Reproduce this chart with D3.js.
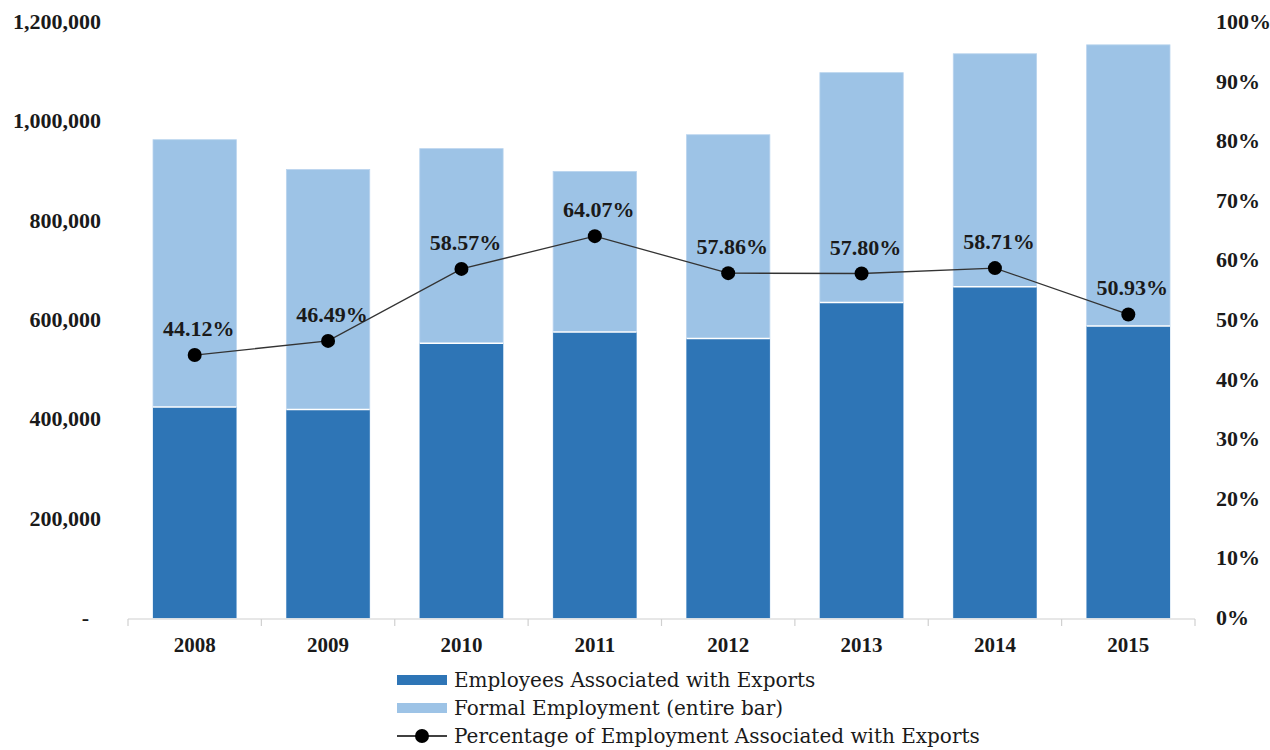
<!DOCTYPE html>
<html>
<head>
<meta charset="utf-8">
<script src="https://cdn.jsdelivr.net/npm/d3@7"></script>
<style>
  body { margin: 0; background: #fff; }
  text { font-family: "Liberation Serif", "DejaVu Serif", serif; fill: #1a1a1a; }
  text.legend { font-family: "DejaVu Serif", "Liberation Serif", serif; }
</style>
</head>
<body>
<div id="chart"></div>
<script>
// data
var years = ["2008", "2009", "2010", "2011", "2012", "2013", "2014", "2015"]
var formalEmployment = [963000, 903000, 945000, 899000, 973000, 1098000, 1136000, 1154000]
var exportEmployees = [425000, 420000, 553000, 576000, 563000, 635000, 667000, 588000]
var exportShare = [44.12, 46.49, 58.57, 64.07, 57.86, 57.80, 58.71, 50.93]
var leftTicks = [0, 200000, 400000, 600000, 800000, 1000000, 1200000]
var rightTicks = [0, 10, 20, 30, 40, 50, 60, 70, 80, 90, 100]

var w = 1270, h = 750
var dark = "#2E75B6", light = "#9DC3E6"

var svg = d3.select("#chart").append("svg")
  .attr("width", w)
  .attr("height", h)

var x = d3.scaleBand().domain(years).range([128, 1195]).paddingInner(0.375).paddingOuter(0.1875)
var y = d3.scaleLinear().domain([0, 1200000]).range([618, 22])
var y2 = d3.scaleLinear().domain([0, 100]).range([618, 22])

// total bars (light), then export part (dark) on top
svg.selectAll("rect.total").data(years).enter().append("rect")
  .attr("class", "total")
  .attr("x", d => x(d))
  .attr("width", x.bandwidth())
  .attr("y", (d, i) => y(formalEmployment[i]))
  .attr("height", (d, i) => y(0) - y(formalEmployment[i]))
  .attr("fill", light)
  .attr("stroke", "#b9d4ee")
  .attr("stroke-width", 0.8)

svg.selectAll("rect.exp").data(years).enter().append("rect")
  .attr("class", "exp")
  .attr("x", d => x(d))
  .attr("width", x.bandwidth())
  .attr("y", (d, i) => y(exportEmployees[i]))
  .attr("height", (d, i) => y(0) - y(exportEmployees[i]))
  .attr("fill", dark)

// thin white seam between the two segments
svg.selectAll("line.seam").data(years).enter().append("line")
  .attr("x1", d => x(d))
  .attr("x2", d => x(d) + x.bandwidth())
  .attr("y1", (d, i) => y(exportEmployees[i]))
  .attr("y2", (d, i) => y(exportEmployees[i]))
  .attr("stroke", "#fff")
  .attr("stroke-width", 1.5)

// x axis: baseline + boundary ticks
var bounds = d3.range(years.length + 1).map(i => 128 + i * (1195 - 128) / years.length)
svg.append("line")
  .attr("x1", 128).attr("x2", 1195)
  .attr("y1", 619).attr("y2", 619)
  .attr("stroke", "#d0d0d0").attr("stroke-width", 1.2)
svg.selectAll("line.xt").data(bounds).enter().append("line")
  .attr("x1", d => d).attr("x2", d => d)
  .attr("y1", 619).attr("y2", 626)
  .attr("stroke", "#d0d0d0").attr("stroke-width", 1.2)

svg.selectAll("text.xl").data(years).enter().append("text")
  .attr("x", d => x(d) + x.bandwidth() / 2)
  .attr("y", 652)
  .attr("text-anchor", "middle")
  .attr("font-size", 21)
  .attr("font-weight", "bold")
  .text(d => d)

// left axis labels
var fmt = d3.format(",")
svg.selectAll("text.yl").data(leftTicks).enter().append("text")
  .attr("x", d => d === 0 ? 89 : 101)
  .attr("y", d => y(d) + 7)
  .attr("text-anchor", "end")
  .attr("font-size", 22)
  .attr("font-weight", "bold")
  .text(d => d === 0 ? "-" : fmt(d))

// right axis labels
svg.selectAll("text.yr").data(rightTicks).enter().append("text")
  .attr("x", 1216)
  .attr("y", d => y2(d) + 7)
  .attr("font-size", 22)
  .attr("font-weight", "bold")
  .text(d => d + "%")

// percentage line
var line = d3.line()
  .x((d, i) => x(years[i]) + x.bandwidth() / 2)
  .y(d => y2(d))

svg.append("path")
  .attr("d", line(exportShare))
  .attr("fill", "none")
  .attr("stroke", "#333")
  .attr("stroke-width", 1.3)

svg.selectAll("circle.pt").data(exportShare).enter().append("circle")
  .attr("cx", (d, i) => x(years[i]) + x.bandwidth() / 2)
  .attr("cy", d => y2(d))
  .attr("r", 7)
  .attr("fill", "#000")

svg.selectAll("text.pl").data(exportShare).enter().append("text")
  .attr("x", (d, i) => x(years[i]) + x.bandwidth() / 2 + 4)
  .attr("y", d => y2(d) - 19)
  .attr("text-anchor", "middle")
  .attr("font-size", 22)
  .attr("font-weight", "bold")
  .text(d => d.toFixed(2) + "%")

// legend
var legendItems = [
  { label: "Employees Associated with Exports", kind: "bar", color: dark },
  { label: "Formal Employment (entire bar)", kind: "bar", color: light },
  { label: "Percentage of Employment Associated with Exports", kind: "line", color: "#000" }
]
var lg = svg.selectAll("g.leg").data(legendItems).enter().append("g")
  .attr("transform", (d, i) => "translate(397," + (680 + i * 28) + ")")

lg.filter(d => d.kind === "bar").append("rect")
  .attr("x", 0).attr("y", -5)
  .attr("width", 50).attr("height", 10)
  .attr("fill", d => d.color)

lg.filter(d => d.kind === "line").append("line")
  .attr("x1", 0).attr("x2", 50).attr("y1", 0).attr("y2", 0)
  .attr("stroke", "#000").attr("stroke-width", 1.3)
lg.filter(d => d.kind === "line").append("circle")
  .attr("cx", 25).attr("cy", 0).attr("r", 7).attr("fill", "#000")

lg.append("text")
  .attr("class", "legend")
  .attr("x", 57)
  .attr("y", 7)
  .attr("font-size", 20)
  .text(d => d.label)
</script>
</body>
</html>
